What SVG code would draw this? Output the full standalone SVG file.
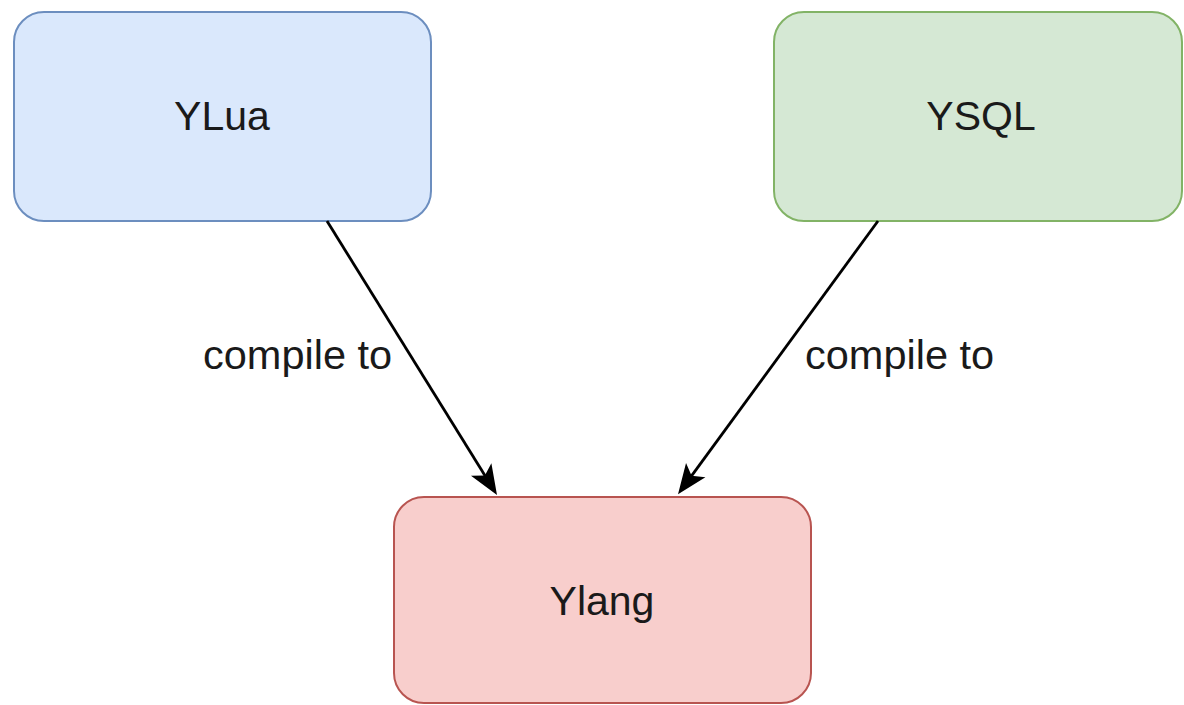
<svg xmlns="http://www.w3.org/2000/svg" width="1184" height="705" viewBox="0 0 1184 705">
  <style>
    .box { stroke-width: 2; }
    .blue { fill: #dae8fc; stroke: #6c8ebf; }
    .green { fill: #d5e8d4; stroke: #82b366; }
    .red { fill: #f8cecc; stroke: #b85450; }
    .label { font-family: "Liberation Sans", Arial, sans-serif; font-size: 41px; fill: #1a1a1a; text-anchor: middle; }
    .edge { fill: none; stroke: #000; stroke-width: 2.8; }
    .edge-label { font-family: "Liberation Sans", Arial, sans-serif; font-size: 41.5px; fill: #1a1a1a; }
  </style>
  <defs>
    <marker id="arrow" viewBox="0 0 30 30" refX="8" refY="15" markerWidth="30" markerHeight="30" markerUnits="userSpaceOnUse" orient="auto">
      <path d="M0,3 L30,15 L0,27 L7,15 z" fill="#000"/>
    </marker>
  </defs>
  <rect width="1184" height="705" fill="#ffffff"/>
  <g id="node-ylua">
    <rect class="box blue" x="14" y="12" width="417" height="209" rx="30" ry="30"/>
    <text class="label" x="222" y="130">YLua</text>
  </g>
  <g id="node-ysql">
    <rect class="box green" x="774" y="12" width="408" height="209" rx="30" ry="30"/>
    <text class="label" x="981" y="130">YSQL</text>
  </g>
  <g id="node-ylang">
    <rect class="box red" x="394" y="497" width="417" height="206" rx="30" ry="30"/>
    <text class="label" x="602" y="615">Ylang</text>
  </g>
  <g id="connectors">
    <path class="edge" d="M327,221 L485.4,476.3" marker-end="url(#arrow)"/>
    <path class="edge" d="M878,221 L691,476.6" marker-end="url(#arrow)"/>
    <text class="edge-label" x="203" y="369">compile to</text>
    <text class="edge-label" x="805" y="369">compile to</text>
  </g>
</svg>
